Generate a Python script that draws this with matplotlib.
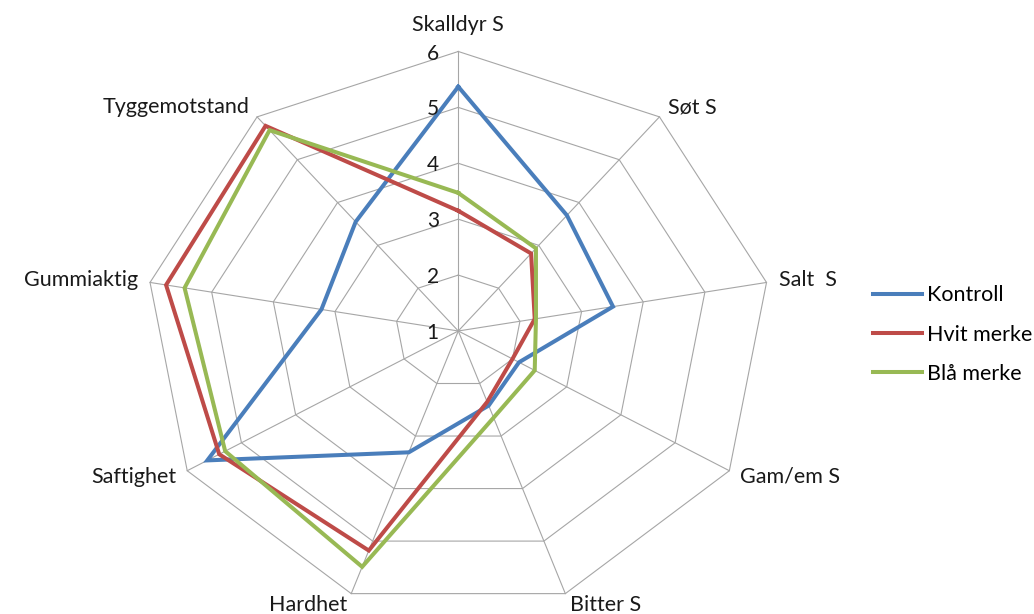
#!/usr/bin/env python3
# -*- coding: utf-8 -*-
# plot.py - radar (edderkopp) diagram, sensorikk

import numpy as np

from matplotlib import pyplot as plt

###############################################################################

categories = ['Skalldyr S', 'Søt S', 'Salt  S', 'Gam/em S', 'Bitter S',
              'Hardhet', 'Saftighet', 'Gummiaktig', 'Tyggemotstand']
kontroll = [5.37, 3.70, 3.51, 2.12, 2.42, 3.31, 5.63, 3.22, 3.55]
hvit_merke = [3.15, 2.81, 2.24, 2.00, 2.35, 5.18, 5.41, 5.74, 5.79]
blaa_merke = [3.47, 2.93, 2.26, 2.41, 2.65, 5.49, 5.30, 5.44, 5.69]
series_names = ['Kontroll', 'Hvit merke', 'Blå merke']
ticks = [1, 2, 3, 4, 5, 6]

#%% radar
def radar(save=True):
  plt.rcParams['font.family'] = ['Lato', 'DejaVu Sans']
  fig = plt.figure(figsize=(10.34, 6.14), dpi=100)
  ax = fig.add_axes([0, 0, 1, 1])
  ax.axis('off')
  # the picture is a bit wider than tall, so keep the axes free of aspect
  ax.set_xlim(-7.321, 9.197)
  ax.set_ylim(-5.063, 5.921)

  vmin = ticks[0]
  n = len(categories)
  ang = np.deg2rad(90 - 360.0 / n * np.arange(n))
  ca, sa = np.cos(ang), np.sin(ang)

  # rings and spokes
  for t in ticks[1:]:
    r = t - vmin
    ax.plot(np.append(r * ca, r * ca[0]), np.append(r * sa, r * sa[0]),
            color='#a6a6a6', lw=0.8, zorder=1)
  rmax = ticks[-1] - vmin
  for c, s in zip(ca, sa):
    ax.plot([0, rmax * c], [0, rmax * s], color='#a6a6a6', lw=0.8, zorder=1)

  # series
  colors = ['#4a7ebb', '#be4b48', '#98b954']
  for vals, name, col in zip([kontroll, hvit_merke, blaa_merke],
                             series_names, colors):
    r = np.array(vals) - vmin
    ax.plot(np.append(r * ca, r[0] * ca[0]), np.append(r * sa, r[0] * sa[0]),
            color=col, lw=2.9, label=name, zorder=3, solid_joinstyle='miter')

  # axis values along the top spoke
  for t in ticks:
    ax.annotate(str(t), xy=(0, t - vmin), xytext=(-14, -1.5),
                textcoords='offset points', ha='right', va='center',
                fontsize=15, color='#1a1a1a')

  # category labels
  for lab, c, s in zip(categories, ca, sa):
    if abs(c) < 0.1:
      ha = 'center'
      off = (0, 19)
    else:
      ha = 'left' if c > 0 else 'right'
      off = (9 * c, 9 * s)
    ax.annotate(lab, xy=(rmax * c, rmax * s), xytext=off,
                textcoords='offset points', ha=ha, va='center',
                fontsize=15.5, color='#1a1a1a')

  ax.legend(loc='upper left', bbox_to_anchor=(0.8335, 0.553), frameon=False,
            fontsize=15.5, handlelength=2.3, handletextpad=0.25,
            labelspacing=0.9, borderpad=0)

  if save:
    plt.savefig('out.png', dpi=100)

#%%
if __name__ == '__main__':
  radar()
